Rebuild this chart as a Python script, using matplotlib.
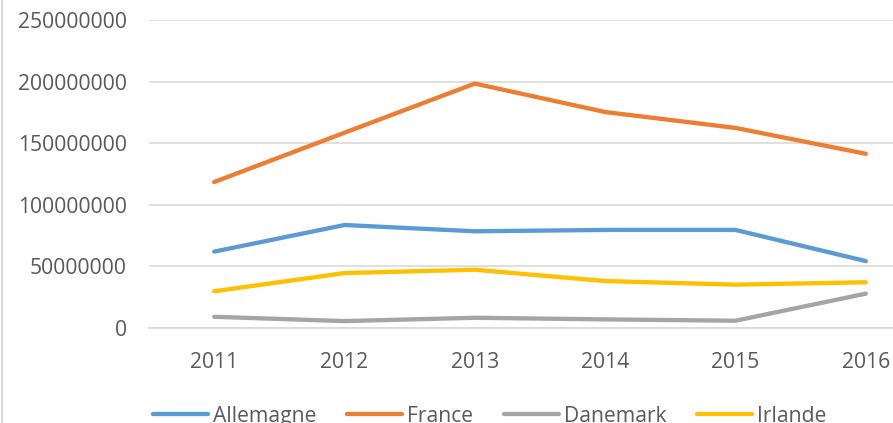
import numpy as np
import matplotlib.pyplot as plt
from matplotlib.lines import Line2D

# Valeurs par pays et par année
annees = ['2011', '2012', '2013', '2014', '2015', '2016']
allemagne = [62000000, 83600000, 78500000, 79600000, 79600000, 54300000]
france = [118500000, 158500000, 198400000, 175300000, 162400000, 141400000]
danemark = [9100000, 5600000, 8300000, 7000000, 5900000, 27900000]
irlande = [29800000, 44600000, 47300000, 38100000, 35200000, 37100000]

series = [('Allemagne', allemagne, '#5B9BD5'),
          ('France', france, '#ED7D31'),
          ('Danemark', danemark, '#A5A5A5'),
          ('Irlande', irlande, '#FFC000')]

plt.rcParams['font.family'] = ['Open Sans', 'DejaVu Sans']
gris_texte = '#595959'
gris_grille = '#D9D9D9'

fig = plt.figure(figsize=(8.93, 4.23), dpi=100)
W, H = 893, 423
# La zone de tracé déborde à droite de la figure
ax = fig.add_axes([149 / W, (H - 328) / H, (931 - 149) / W, (328 - 20) / H])

x = np.arange(len(annees))
for nom, valeurs, couleur in series:
    ax.plot(x, valeurs, color=couleur, linewidth=3.1, label=nom,
            solid_capstyle='round', solid_joinstyle='round')

ax.set_xlim(-0.5, len(annees) - 0.5)
ax.set_ylim(0, 250000000)
ax.set_yticks(np.arange(0, 250000001, 50000000))
ax.set_yticklabels([str(v) for v in range(0, 250000001, 50000000)])
ax.set_xticks(x)
ax.set_xticklabels(annees)
ax.tick_params(axis='y', length=0, pad=16, labelsize=15.2, labelcolor=gris_texte)
ax.tick_params(axis='x', length=0, pad=17, labelsize=15.2, labelcolor=gris_texte)

ax.grid(axis='y', color=gris_grille, linewidth=1.2)
ax.set_axisbelow(True)
for cote in ['top', 'right', 'left']:
    ax.spines[cote].set_visible(False)
ax.spines['bottom'].set_color(gris_grille)
ax.spines['bottom'].set_linewidth(1.2)

# Légende en bas, coupée par le bord de la figure
leg = fig.legend(loc='center left', bbox_to_anchor=(153 / W, (H - 416) / H),
                 ncol=4, frameon=False, fontsize=15.2, handlelength=2.6,
                 handletextpad=0.25, columnspacing=1.45, borderaxespad=0, borderpad=0)
for t in leg.get_texts():
    t.set_color(gris_texte)

# Bordure gauche du graphique
fig.add_artist(Line2D([2 / W, 2 / W], [0, 1], color=gris_grille, linewidth=1.5))

fig.savefig('out.png', dpi=100)
